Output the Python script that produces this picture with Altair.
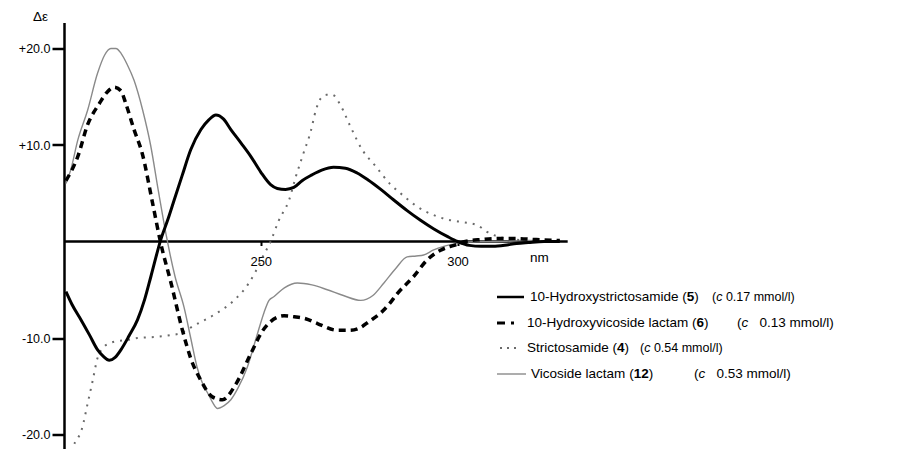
import altair as alt
import pandas as pd

# ---------------- data ----------------
# 10-Hydroxystrictosamide (5)
s5_nm = [200.5, 202, 204.3, 206.5, 208.5, 210, 211.5, 213, 214.5, 216.5, 218.7, 220.5, 222.1, 224.6, 226.5,
         228, 230, 232.2, 234.8, 236.8, 238.6, 240.5, 242.4, 245, 247.5, 250, 252.5, 254.2, 256.3, 258.4,
         260.5, 263, 265.5, 268.5, 271.5, 274.5, 277.2, 280.5, 283.8, 287.2, 290.6, 294, 297.5, 300, 303,
         306, 309, 312, 315, 318, 322, 326]
s5_de = [-5.2, -6.5, -8.1, -9.7, -11.2, -11.9, -12.3, -12.0, -11.2, -9.8, -8.1, -6.0, -3.6, 0.2, 2.4,
         4.3, 6.8, 9.5, 11.6, 12.6, 13.1, 12.7, 11.6, 10.2, 8.8, 7.2, 5.9, 5.5, 5.4, 5.6,
         6.3, 6.9, 7.4, 7.7, 7.6, 7.1, 6.4, 5.4, 4.3, 3.2, 2.2, 1.3, 0.5, 0.0, -0.4,
         -0.5, -0.5, -0.4, -0.2, -0.1, 0.0, 0.0]

# 10-Hydroxyvicoside lactam (6)
s6_nm = [200.5, 203.5, 206, 209, 211, 212.8, 214.5, 215.7, 217.8, 219.9, 222.5, 224.6, 227.2, 230.1, 232.2,
         234.8, 237.7, 240.3, 243.5, 247.5, 250.4, 252.5, 255.9, 258.5, 261.4, 264.4, 269.5, 272.6, 275.4,
         277.5, 280.5, 282.6, 284.7, 288.9, 292.3, 295.7, 299.1, 302, 306, 310, 315, 320, 326]
s6_de = [6.3, 8.8, 12.1, 14.3, 15.5, 16.0, 15.6, 14.3, 11.6, 9.1, 4.0, -0.2, -4.3, -9.2, -12.1,
         -14.4, -16.1, -16.4, -14.9, -11.6, -9.3, -8.3, -7.7, -7.8, -8.0, -8.5, -9.2, -9.2, -8.9,
         -8.3, -7.4, -6.5, -5.4, -3.6, -1.9, -0.9, -0.4, 0.0, 0.2, 0.3, 0.3, 0.2, 0.1]

# Strictosamide (4)
s4_nm = [201, 202.2, 204.7, 206, 207.3, 208.5, 210, 211.9, 214, 216.1, 218.7, 222.8, 227.2, 229.7, 233.1,
         238.1, 243.2, 247, 248.7, 250.5, 252.5, 254.6, 257.2, 258.9, 260.9, 262.7, 264, 265.2, 266.7,
         268.2, 270.3, 272.8, 275.8, 279.2, 283, 285.5, 289.8, 294.8, 298.2, 301.5, 305, 307.5, 312.6,
         318, 326]
s4_de = [-22.5, -21.3, -19.2, -16.8, -14.4, -12.1, -11.0, -10.5, -10.3, -10.2, -10.0, -9.9, -9.7, -9.5, -8.7,
         -7.6, -6.1, -4.3, -3.1, -1.6, 0.0, 2.2, 4.3, 6.7, 9.2, 11.4, 13.6, 14.8, 15.2,
         15.2, 14.1, 11.9, 9.5, 7.8, 5.9, 5.0, 3.6, 2.6, 2.2, 2.0, 1.7, 1.0, 0.3,
         0.1, 0.0]

# Vicoside lactam (12)
s12_nm = [200.5, 201.7, 203.5, 206, 208.5, 210.3, 211.9, 213.2, 214.5, 216, 217.8, 220, 222, 224, 226,
          228.2, 230.5, 232.2, 233.8, 235.3, 236.5, 237.8, 239, 240.7, 242.4, 244.2, 246.6, 249.2, 250.8,
          252.1, 253.4, 256, 259.3, 263, 266.9, 271, 275.4, 278.5, 281.3, 284.3, 287.2, 289.5, 291.4,
          293.8, 296.5, 300, 305, 310, 318, 326]
s12_de = [6.0, 7.4, 10.5, 13.6, 17.4, 19.3, 20.0, 20.0, 19.5, 18.4, 16.7, 13.6, 10.0, 5.2, 0.6,
          -3.6, -6.8, -10.0, -13.0, -14.8, -15.7, -16.7, -17.3, -17.0, -16.4, -15.2, -13.0, -9.5, -7.4,
          -6.1, -5.7, -4.8, -4.3, -4.5, -5.0, -5.6, -6.1, -5.6, -4.3, -2.8, -1.6, -1.5, -1.4,
          -0.9, -0.5, -0.2, 0.0, 0.0, 0.1, 0.0]

baseline_nm = [200, 328]
x_ticks = [250, 300]
y_ticks = [-20, -10, 10, 20]

legend_names = ["10-Hydroxystrictosamide", "10-Hydroxyvicoside lactam", "Strictosamide", "Vicoside lactam"]
legend_nums = ["5", "6", "4", "12"]
legend_conc = ["0.17 mmol/l)", "0.13 mmol/l)", "0.54 mmol/l)", "0.53 mmol/l)"]

# ---------------- layout ----------------
FONT = "Liberation Sans"
W, H = 831, 426.5
PAD_L, PAD_T = 56, 14.5
PX_NM = 3.935
PX_DE = 9.65
Y0 = 219.0  # plot-y of zero line
xs = alt.Scale(domain=[200, 200 + W / PX_NM], nice=False, zero=False)
ys = alt.Scale(domain=[-(H - Y0) / PX_DE, Y0 / PX_DE], nice=False, zero=False)

x_axis = alt.Axis(
    values=x_ticks, orient="bottom", offset=Y0 - H, domain=False, grid=False,
    tickSize=4, tickWidth=2, tickColor="black", labelFont=FONT, labelFontSize=13,
    labelColor="black", labelPadding=10, format="d", title=None)
y_axis = alt.Axis(
    values=y_ticks, orient="left", grid=False, domainColor="black", domainWidth=2.5,
    tickSize=12, tickWidth=2.5, tickColor="black", labelFont=FONT, labelFontSize=12.5,
    labelColor="black", labelPadding=2,
    labelExpr="(datum.value > 0 ? '+' : '-') + format(abs(datum.value), '.1f')",
    title="Δε", titleAngle=0, titleX=-24, titleY=-6.5, titleAlign="center",
    titleBaseline="middle", titleFont=FONT, titleFontSize=13.5, titleFontWeight="normal",
    titleColor="black")

one = alt.Data(values=[{}])

AR = {' ': 278, '(': 333, ')': 333, '-': 333, '.': 278, '/': 278, 'H': 722, 'S': 667, 'V': 667,
      'a': 556, 'c': 500, 'd': 556, 'e': 556, 'i': 222, 'l': 222, 'm': 833, 'o': 556, 'r': 333,
      's': 500, 't': 278, 'v': 500, 'x': 500, 'y': 500}


def tw(s, size):
    return sum(AR.get(ch, 556) for ch in s) * size / 1000.0


def txt(s, x, y, size=13, weight="normal", style="normal", align="left"):
    return alt.Chart(one).mark_text(text=s, font=FONT, fontSize=size, fontWeight=weight,
                                    fontStyle=style, align=align, baseline="middle",
                                    color="black").encode(x=alt.value(x), y=alt.value(y))


def line(nm, de, **style):
    df = pd.DataFrame({"nm": nm, "de": de})
    return alt.Chart(df).mark_line(interpolate="monotone", clip=True, **style).encode(
        x=alt.X("nm:Q", scale=xs, axis=x_axis),
        y=alt.Y("de:Q", scale=ys, axis=y_axis),
    )


# zero line drawn as a rule on the shared scales
base_df = pd.DataFrame({"x0": [baseline_nm[0]], "x1": [baseline_nm[1]], "y0": [0]})
axis_layer = alt.Chart(base_df).mark_rule(color="black", strokeWidth=2.5).encode(
    x=alt.X("x0:Q", scale=xs, axis=x_axis),
    x2="x1:Q",
    y=alt.Y("y0:Q", scale=ys, axis=y_axis),
)

layers = [axis_layer,
          line(s12_nm, s12_de, color="#8a8a8a", strokeWidth=1.4),
          line(s4_nm, s4_de, color="#6a6a6a", strokeWidth=2, strokeDash=[2, 6]),
          line(s6_nm, s6_de, color="black", strokeWidth=3.5, strokeDash=[7, 5]),
          line(s5_nm, s5_de, color="black", strokeWidth=3),
          txt("nm", 530 - 64, 258 - 22.5, size=13.5)]

# legend (page coordinates converted to plot coordinates)
NAME_FS = 13.5
rows_y = [297, 323, 348, 374]
name_x = [530, 527, 527, 531]
conc_start = [712, 737, 640, 694]
conc_size = [12.5, 13.5, 12.5, 13.5]
conc_gap = [1, 3, 1, 3]  # spaces between "c" and the number
sym = [dict(color="black", strokeWidth=2.5, x0=497, x1=524),
       dict(color="black", strokeWidth=3, strokeDash=[8, 6, 3, 40], x0=497, x1=516),
       dict(color="#6a6a6a", strokeWidth=2, strokeDash=[2, 5], x0=500, x1=521),
       dict(color="#8a8a8a", strokeWidth=1.4, x0=497, x1=526)]
for i in range(4):
    y = rows_y[i] - PAD_T - 8
    s = dict(sym[i])
    x0, x1 = s.pop("x0"), s.pop("x1")
    layers.append(alt.Chart(one).mark_rule(**s).encode(
        x=alt.value(x0 - 64), x2=alt.value(x1 - 64), y=alt.value(y)))
    nx = name_x[i] - 64
    layers.append(txt(legend_names[i], nx, y, size=NAME_FS))
    nx += tw(legend_names[i] + " ", NAME_FS)
    layers.append(txt("(", nx, y, size=NAME_FS))
    nx += tw("(", NAME_FS)
    layers.append(txt(legend_nums[i], nx, y, size=NAME_FS, weight="bold"))
    nx += tw(legend_nums[i], NAME_FS)
    layers.append(txt(")", nx, y, size=NAME_FS))
    fs = conc_size[i]
    cx = conc_start[i] - 64
    layers.append(txt("(", cx, y, size=fs))
    cx += tw("(", fs)
    layers.append(txt("c", cx, y, size=fs, style="italic"))
    cx += tw("c" + " " * conc_gap[i], fs)
    layers.append(txt(legend_conc[i], cx, y, size=fs))

chart = alt.layer(*layers).properties(
    width=W, height=H,
    autosize=alt.AutoSizeParams(type="none"),
    padding={"left": PAD_L, "top": PAD_T, "right": 0, "bottom": 0},
    background="white",
).configure_view(stroke=None)

chart.save("out.html", embed_options={"renderer": "svg", "actions": False})
